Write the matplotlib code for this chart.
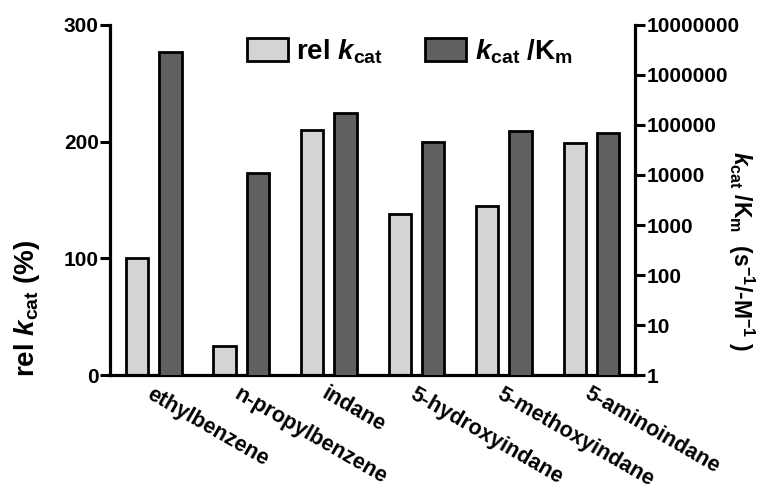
import numpy as np
import matplotlib
matplotlib.use("Agg")
import matplotlib.pyplot as plt
from matplotlib.ticker import FixedLocator, FixedFormatter, NullLocator

plt.rcParams['font.family'] = ['Liberation Sans', 'DejaVu Sans']
plt.rcParams['font.weight'] = 'bold'
plt.rcParams['mathtext.fontset'] = 'custom'
plt.rcParams['mathtext.rm'] = 'Liberation Sans:bold'
plt.rcParams['mathtext.it'] = 'Liberation Sans:bold:italic'
plt.rcParams['mathtext.bf'] = 'Liberation Sans:bold'

substrates = ['ethylbenzene', 'n-propylbenzene', 'indane',
              '5-hydroxyindane', '5-methoxyindane', '5-aminoindane']
rel_kcat = [100, 25, 210, 138, 145, 199]               # %
kcat_km = [2.8e6, 1.08e4, 1.7e5, 4.5e4, 7.6e4, 7.0e4]  # s-1 M-1

left_ticks = [0, 100, 200, 300]
right_ticks = [1, 10, 100, 1000, 10000, 100000, 1000000, 10000000]

x = np.arange(len(substrates))
w = 0.255
off = 0.19

fig = plt.figure(figsize=(7.69, 4.86), dpi=100)
ax = fig.add_axes([0.143, 0.228, 0.683, 0.721])
ax2 = ax.twinx()

b1 = ax.bar(x - off, rel_kcat, w, color='#d4d4d4', edgecolor='black', linewidth=2.0,
            label='rel $k_{\\mathrm{cat}}$')
ax2.set_yscale('log')
b2 = ax2.bar(x + off, kcat_km, w, color='#606060', edgecolor='black', linewidth=2.0,
             label='$k_{\\mathrm{cat}}$ /K$_{\\mathrm{m}}$')

ax.set_xlim(-0.5, len(substrates) - 0.5)
ax.set_ylim(0, 300)
ax2.set_ylim(1, 1e7)

ax.yaxis.set_major_locator(FixedLocator(left_ticks))
ax.yaxis.set_minor_locator(NullLocator())
ax2.yaxis.set_major_locator(FixedLocator(right_ticks))
ax2.yaxis.set_major_formatter(FixedFormatter([str(t) for t in right_ticks]))
ax2.yaxis.set_minor_locator(NullLocator())

# substrate names slanted below each pair of bars
ax.set_xticks(x)
ax.set_xticklabels(substrates, rotation=-30, ha='left', va='top',
                   rotation_mode='anchor', fontsize=15.5, fontweight='bold')
ax.tick_params(axis='x', length=0, pad=6)

for a in (ax, ax2):
    a.tick_params(axis='y', width=2.2, length=7, labelsize=15, pad=1)
    for s in a.spines.values():
        s.set_linewidth(2.3)
    a.spines['top'].set_visible(False)
ax.spines['right'].set_visible(False)
ax2.spines['left'].set_visible(False)
ax2.spines['bottom'].set_visible(False)

ax.set_ylabel('rel $k_{\\mathrm{cat}}$ (%)', fontsize=20, fontweight='bold')
ax.yaxis.set_label_coords(-0.13, 0.19)
ax2.set_ylabel('$k_{\\mathrm{cat}}$ /K$_{\\mathrm{m}}$  (s$^{\\mathrm{-1}}$/-M$^{\\mathrm{-1}}$ )',
               fontsize=16.5, fontweight='bold', rotation=270, va='center')
ax2.yaxis.set_label_coords(1.202, 0.354)

leg = ax.legend([b1, b2], [b1.get_label(), b2.get_label()], ncol=2, frameon=False,
                loc='upper left', bbox_to_anchor=(0.261, 0.965), fontsize=20,
                handlelength=1.48, handleheight=0.86, columnspacing=1.5,
                handletextpad=0.3, borderpad=0, borderaxespad=0)

fig.savefig('out.png', dpi=100)
